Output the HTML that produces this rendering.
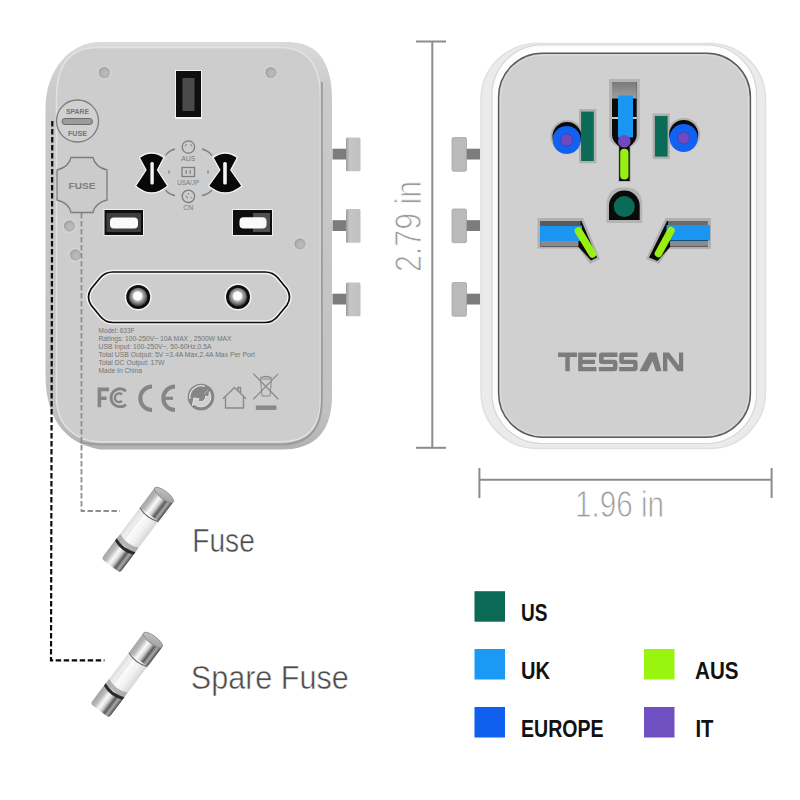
<!DOCTYPE html>
<html><head><meta charset="utf-8">
<style>
html,body{margin:0;padding:0;background:#fff;width:800px;height:800px;overflow:hidden}
svg{display:block}
text{font-family:"Liberation Sans",sans-serif}
</style></head><body>
<svg width="800" height="800" viewBox="0 0 800 800">
<defs>
  <linearGradient id="cap" x1="0" y1="0" x2="1" y2="0">
    <stop offset="0" stop-color="#a4a4a4"/><stop offset="0.2" stop-color="#b8b8b8"/><stop offset="0.4" stop-color="#fafafa"/><stop offset="0.55" stop-color="#d4d4d4"/><stop offset="0.72" stop-color="#5a5a5a"/><stop offset="0.85" stop-color="#a8a8a8"/><stop offset="1" stop-color="#4a4a4a"/>
  </linearGradient>
  <linearGradient id="capTop" x1="0" y1="0" x2="1" y2="1">
    <stop offset="0" stop-color="#c8c8c8"/><stop offset="1" stop-color="#9a9a9a"/>
  </linearGradient>
  <linearGradient id="glass" x1="0" y1="0" x2="1" y2="0">
    <stop offset="0" stop-color="#dcdcdc"/><stop offset="0.35" stop-color="#fbfbfb"/><stop offset="0.7" stop-color="#f0f0f0"/><stop offset="1" stop-color="#d6d6d6"/>
  </linearGradient>
  <linearGradient id="pinhead" x1="0" y1="0" x2="1" y2="0">
    <stop offset="0" stop-color="#9c9c9c"/><stop offset="0.25" stop-color="#c6c6c6"/><stop offset="1" stop-color="#c0c0c0"/>
  </linearGradient>
  <linearGradient id="bodyL" x1="0" y1="0" x2="0" y2="1">
    <stop offset="0" stop-color="#dadada"/><stop offset="0.12" stop-color="#cacaca"/><stop offset="0.9" stop-color="#c2c2c2"/><stop offset="1" stop-color="#b2b2b2"/>
  </linearGradient>
  <radialGradient id="dot" cx="0.55" cy="0.55" r="0.5">
    <stop offset="0" stop-color="#bdbdbd"/><stop offset="0.7" stop-color="#b0b0b0"/><stop offset="1" stop-color="#9c9c9c"/>
  </radialGradient>
  <radialGradient id="hole" cx="0.48" cy="0.45" r="0.55">
    <stop offset="0.4" stop-color="#d0d0d0"/><stop offset="1" stop-color="#3a3a3a"/>
  </radialGradient>
  <linearGradient id="slotTop" x1="0" y1="0" x2="0" y2="1">
    <stop offset="0" stop-color="#7a7a7a"/><stop offset="1" stop-color="#a0a0a0"/>
  </linearGradient>
  <g id="fuse">
    <rect x="-11.5" y="-21" width="23" height="42" fill="url(#glass)"/>
    <line x1="-5" y1="-19" x2="-5" y2="16" stroke="#e2e2e2" stroke-width="1"/>
    <line x1="6" y1="-19" x2="6" y2="16" stroke="#e8e8e8" stroke-width="1"/>
    <path d="M-11.5 13 Q0 18 11.5 13 V20 Q0 25 -11.5 20 Z" fill="#8a8a8a" opacity="0.6"/>
    <rect x="-11.7" y="-45" width="23.4" height="25" rx="2" fill="url(#cap)"/>
    <path d="M-11.7 -20 Q0 -15 11.7 -20" fill="none" stroke="#6a6a6a" stroke-width="1.2"/>
    <ellipse cx="0" cy="-44.5" rx="11.7" ry="4" fill="url(#capTop)" stroke="#8a8a8a" stroke-width="0.8"/>
    <rect x="-11.7" y="20" width="23.4" height="24" rx="3" fill="url(#cap)"/>
    <path d="M-11.7 18.5 Q0 23.5 11.7 18.5 V21.5 Q0 26.5 -11.7 21.5 Z" fill="#2a2a2a"/>
  </g>
  <g id="pinL">
    <rect x="0" y="11.2" width="14" height="10.8" fill="#7c7c7c"/>
    <rect x="13.5" y="0" width="14.5" height="33.7" rx="1.5" fill="url(#pinhead)"/>
  </g>
  <g id="pinR">
    <rect x="14" y="11.2" width="14" height="10.8" fill="#7c7c7c"/>
    <rect x="0" y="0" width="14.5" height="33.7" rx="1.5" fill="#bababa" stroke="#a6a6a6" stroke-width="0.8"/>
  </g>
</defs>

<!-- ============ LEFT DEVICE ============ -->
<use href="#pinL" x="332.5" y="137.5"/>
<use href="#pinL" x="332.5" y="209"/>
<use href="#pinL" x="332.5" y="282.5"/>

<path d="M100 42 H288 Q332 42 332 100 V395 Q332 449.5 282 449.5 H100 C62 443 45.5 415 45.5 375 V108 C45.5 70 70 42 100 42 Z" fill="url(#bodyL)"/>
<path d="M98 47.5 H280 Q320.5 47.5 320.5 98 V400 Q320.5 442 280 442 H100 C78 441.5 57 428 56.5 398 V98 Q56.5 47.5 98 47.5 Z" fill="#cdcdcd" stroke="#e2e2e2" stroke-width="1.5"/>
<path d="M321.8 82 V400 Q321.8 444.6 280 444.6 H100 C92 444.6 86 443.5 80 442" fill="none" stroke="#9c9c9c" stroke-width="2"/>

<!-- screw dots -->
<g fill="url(#dot)" stroke="#d8d8d8" stroke-width="1.2">
  <circle cx="104.4" cy="72.6" r="6.3"/>
  <circle cx="271" cy="72.6" r="6.3"/>
  <circle cx="69.5" cy="226" r="6.3"/>
  <circle cx="75.5" cy="255" r="6.3"/>
  <circle cx="300" cy="244" r="6.3"/>
</g>

<!-- top slot -->
<rect x="175" y="70" width="27" height="49" fill="#f2f2f2"/>
<rect x="176" y="71" width="25" height="46" fill="#0e0e0e"/>
<rect x="182.5" y="78" width="12" height="33" fill="#4a4a4a"/>

<!-- spare fuse circle -->
<circle cx="77.5" cy="121" r="21" fill="#d0d0d0" stroke="#7c7c7c" stroke-width="1.3"/>
<rect x="62" y="118.5" width="30.5" height="6" rx="3" fill="#9c9c9c" stroke="#6a6a6a" stroke-width="1"/>
<text x="77.5" y="113.5" font-size="7.5" font-weight="bold" fill="#737373" text-anchor="middle" textLength="23" lengthAdjust="spacingAndGlyphs">SPARE</text>
<text x="77.5" y="136" font-size="7.5" font-weight="bold" fill="#737373" text-anchor="middle" textLength="19" lengthAdjust="spacingAndGlyphs">FUSE</text>

<!-- fuse octagon -->
<path d="M71 157.5 H93 Q95 167 107 170 V200 Q95 203 93 212.5 H71 Q69 203 57 200 V170 Q69 167 71 157.5 Z" fill="#cbcbcb" stroke="#7c7c7c" stroke-width="1.3"/>
<text x="82" y="188.5" font-size="9.5" font-weight="bold" fill="#7e7e7e" text-anchor="middle" textLength="27" lengthAdjust="spacingAndGlyphs">FUSE</text>

<!-- bowtie holes -->
<g fill="#080808" stroke="#f4f4f4" stroke-width="1.3">
  <path d="M139.3 157.5 Q151.6 148.5 164 157.5 L157.5 170 L167.8 186 Q151.6 200 135.5 186 L146 170 Z"/>
  <path d="M213 157.5 Q225.2 148.5 237.4 157.5 L230.8 170 L242 186 Q225.2 200 208.5 186 L219.8 170 Z"/>
</g>
<rect x="150.4" y="162" width="3.4" height="22.5" rx="1.5" fill="#f4f4f4"/>
<rect x="223.2" y="162" width="3.6" height="22.5" rx="1.5" fill="#f4f4f4"/>

<!-- center icons -->
<g stroke="#7e7e7e" stroke-width="1.3" fill="none">
  <circle cx="188.4" cy="147" r="6.2"/>
  <circle cx="188.4" cy="196.3" r="6.2"/>
  <path d="M186.5 144 L185 146.5 M190.5 144 L192 146.5 M186.3 195.5 L187.5 198.5 M190.8 197 L191.8 198.3 M188.4 193 V194.5" stroke-width="1"/>
  <rect x="182" y="167.5" width="12.5" height="9"/>
  <path d="M165.5 155.5 Q169 150.5 175 149"/>
  <path d="M202 149 Q208 150.5 212 155.5"/>
  <path d="M165.5 190 Q169 194.5 175 195.5"/>
  <path d="M202 195.5 Q208 194.5 212 190"/>
  <line x1="169" y1="170.5" x2="169" y2="173.5"/>
  <line x1="208" y1="170.5" x2="208" y2="173.5"/>
</g>
<g fill="#8a8a8a">
  <rect x="185.5" y="170" width="1.4" height="4"/><rect x="189.5" y="170" width="1.4" height="4"/>
</g>
<g font-size="7" fill="#7a7a7a" text-anchor="middle">
  <text x="188.2" y="161" textLength="14" lengthAdjust="spacingAndGlyphs">AUS</text>
  <text x="188.2" y="184.5" textLength="22" lengthAdjust="spacingAndGlyphs">USA/JP</text>
  <text x="188.2" y="210" textLength="10" lengthAdjust="spacingAndGlyphs">CN</text>
</g>

<!-- USB ports -->
<rect x="103.5" y="209" width="40.5" height="27" fill="#f0f0f0"/>
<rect x="104.5" y="210" width="38.5" height="25" fill="#0e0e0e"/>
<rect x="106.5" y="213" width="34.5" height="19" fill="#3e3e3e"/>
<rect x="110" y="217.5" width="28" height="11" rx="4" fill="#fafafa"/>
<rect x="232" y="209" width="41" height="27" fill="#f0f0f0"/>
<rect x="233" y="210" width="39" height="25" fill="#0e0e0e"/>
<rect x="253" y="213" width="17" height="19" fill="#505050"/>
<rect x="239.5" y="217.2" width="27" height="11.2" rx="4" fill="#fafafa"/>

<!-- euro socket -->
<path id="euro" d="M113 272 H265 Q273 272 278 278 L287 289 Q292 297 287 305 L278 316 Q273 322.5 265 322.5 H113 Q105 322.5 100 316 L91 305 Q86 297 91 289 L100 278 Q105 272 113 272 Z" fill="#cdcdcd" stroke="#f2f2f2" stroke-width="4.5"/>
<path d="M113 272 H265 Q273 272 278 278 L287 289 Q292 297 287 305 L278 316 Q273 322.5 265 322.5 H113 Q105 322.5 100 316 L91 305 Q86 297 91 289 L100 278 Q105 272 113 272 Z" fill="none" stroke="#0e0e0e" stroke-width="1.7"/>
<g>
  <circle cx="138.2" cy="297" r="13.5" fill="#f4f4f4"/>
  <circle cx="138.2" cy="297" r="12" fill="#0e0e0e"/>
  <circle cx="138.2" cy="297" r="9.2" fill="url(#hole)"/>
  <circle cx="137.6" cy="296" r="4.6" fill="#fbfbfb"/>
  <circle cx="238" cy="297" r="13.5" fill="#f4f4f4"/>
  <circle cx="238" cy="297" r="12" fill="#0e0e0e"/>
  <circle cx="238" cy="297" r="9.2" fill="url(#hole)"/>
  <circle cx="237.4" cy="296" r="4.6" fill="#fbfbfb"/>
</g>

<!-- spec text -->
<g font-size="7.4" fill="#747474">
  <text x="98.5" y="332.5" textLength="36" lengthAdjust="spacingAndGlyphs">Model: 633F</text>
  <text x="98.5" y="340.5" textLength="133" lengthAdjust="spacingAndGlyphs">Ratings: 100-250V~ 10A MAX , 2500W MAX</text>
  <text x="98.5" y="348.5" textLength="113" lengthAdjust="spacingAndGlyphs">USB Input: 100-250V~, 50-60Hz,0.5A</text>
  <text x="98.5" y="356.5" textLength="156.5" lengthAdjust="spacingAndGlyphs">Total USB Output: 5V =3.4A Max,2.4A Max Per Port</text>
  <text x="98.5" y="364.5" textLength="66" lengthAdjust="spacingAndGlyphs">Total DC Output: 17W</text>
  <text x="98.5" y="372.5" textLength="43.5" lengthAdjust="spacingAndGlyphs">Made In China</text>
</g>

<!-- cert icons -->
<g fill="#858585">
  <path d="M97.6 387.6 H109 V391.2 H101.2 V396.6 H106.5 V400 H101.2 V407.2 H97.6 Z"/>
</g>
<g fill="none" stroke="#858585">
  <path d="M126 391 A9 9 0 1 0 126 404.5" stroke-width="3"/>
  <path d="M122 394.5 A4.3 4.3 0 1 0 122 401" stroke-width="2.4"/>
  <path d="M152 386.6 A11.7 11.7 0 0 0 152 410" stroke-width="4"/>
  <path d="M175 386.6 A11.7 11.7 0 0 0 175 410" stroke-width="4"/>
  <line x1="163" y1="398.3" x2="173" y2="398.3" stroke-width="3.2"/>
</g>
<circle cx="201" cy="397" r="13.3" fill="#858585"/>
<path d="M208.07 389.93 A10 10 0 0 1 193.93 404.07 L192.37 405.63 L193.87 398.0 L199.16 398.84 L197.75 400.25 A4.6 4.6 0 0 0 204.25 393.75 Z" fill="#cfcfcf" stroke="#e8e8e8" stroke-width="0.9"/>
<path d="M209.63 388.37 L208.13 396.0 L202.84 395.16 Z" fill="#858585"/>
<path d="M189.97 398.94 A11.2 11.2 0 0 1 204.83 386.48" fill="none" stroke="#e2e2e2" stroke-width="1.3"/>
<path d="M223 398.8 L234.5 387.5 L246 398.8 M225.5 396.5 V408 H243.5 V396.5 M238 391 V387.5 H240.5 V393.5" fill="none" stroke="#8a8a8a" stroke-width="1.4"/>
<g stroke="#8a8a8a" stroke-width="1.3" fill="none">
  <path d="M253.3 373.6 L278.3 399.3 M278.3 373.6 L253.3 399.3"/>
  <path d="M260.5 379 H271.5 L270 396 H262 Z" stroke-width="1"/>
  <path d="M260 378 Q266 375 272 378"/>
</g>
<rect x="255.8" y="405.5" width="20.6" height="4.4" fill="#888"/>

<!-- dashed leader lines -->
<path d="M52.3 121 L51 660.3 H104.5" fill="none" stroke="#0a0a0a" stroke-width="2.2" stroke-dasharray="5.5 2.5"/>
<path d="M81.5 213 V511 H120" fill="none" stroke="#8e8e8e" stroke-width="1.8" stroke-dasharray="5.5 2.5"/>

<!-- fuses -->
<use href="#fuse" transform="translate(137.2 530.5) rotate(37)"/>
<use href="#fuse" transform="translate(126.2 675.5) rotate(37)"/>
<text x="192.3" y="552.2" font-size="32.5" fill="#4c4c4c" stroke="#fff" stroke-width="0.5" textLength="62.5" lengthAdjust="spacingAndGlyphs">Fuse</text>
<text x="190.8" y="689" font-size="32.5" fill="#4c4c4c" stroke="#fff" stroke-width="0.5" textLength="158" lengthAdjust="spacingAndGlyphs">Spare Fuse</text>

<!-- ============ DIMENSIONS ============ -->
<g stroke="#8c8c8c" stroke-width="2">
  <line x1="432.3" y1="41" x2="432.3" y2="448"/>
  <line x1="416" y1="41.5" x2="446" y2="41.5"/>
  <line x1="416" y1="447.8" x2="446" y2="447.8"/>
  <line x1="479" y1="479.8" x2="772" y2="479.8"/>
  <line x1="479.4" y1="468" x2="479.4" y2="498"/>
  <line x1="771.6" y1="468" x2="771.6" y2="498"/>
</g>
<text transform="translate(421 272) rotate(-90)" font-size="37" fill="#9c9c9c" stroke="#fff" stroke-width="0.9" textLength="91" lengthAdjust="spacingAndGlyphs">2.79 in</text>
<text x="575" y="517" font-size="37" fill="#9c9c9c" stroke="#fff" stroke-width="0.9" textLength="89" lengthAdjust="spacingAndGlyphs">1.96 in</text>

<!-- ============ RIGHT DEVICE ============ -->
<use href="#pinR" x="452" y="137.5"/>
<use href="#pinR" x="452" y="209"/>
<use href="#pinR" x="452" y="282.5"/>
<rect x="481" y="43.5" width="284.5" height="405" rx="56" fill="#ebebeb" stroke="#e0e0e0" stroke-width="1.5"/>
<rect x="492" y="45" width="264.5" height="398.5" rx="50" fill="#fdfdfd" stroke="#d6d6d6" stroke-width="1.2"/>
<rect x="498.6" y="53.2" width="251.8" height="384" rx="44" fill="#d0d0d0" stroke="#5a5a5a" stroke-width="1.5"/>
<rect x="500.4" y="55" width="248.2" height="380.4" rx="42.5" fill="none" stroke="#dedede" stroke-width="1"/>

<!-- center vertical slot -->
<path d="M609 79 H639.7 V135 Q639.7 142 631 147 V182 H618 V147 Q609 142 609 135 Z" fill="#b4b4b4"/>
<path d="M612 82 H636.7 V135 Q636.7 141 629.7 146.5 V181 H619.2 V146.5 Q612 141 612 135 Z" fill="#0a0a0a"/>
<rect x="612" y="82" width="24.7" height="16.5" fill="url(#slotTop)"/>
<rect x="612" y="117.2" width="24.7" height="1.6" fill="#f6f6f6"/>
<rect x="618" y="95.5" width="15" height="42" fill="#1a96f2"/>
<circle cx="624.3" cy="141.2" r="6.3" fill="#7048c0"/>
<rect x="620.2" y="148.7" width="8.3" height="30.7" rx="4" fill="#98f012"/>

<!-- US flat slots + round -->
<rect x="579" y="109" width="17.4" height="54.2" fill="#b0b0b0"/>
<circle cx="567" cy="136.5" r="16.5" fill="#b0b0b0"/>
<circle cx="567" cy="136.5" r="14.5" fill="#0a0a0a"/>
<rect x="581.1" y="111.6" width="12.7" height="49.4" fill="#0b6b56"/>
<circle cx="566.7" cy="140" r="14" fill="#1262f2"/>
<circle cx="566.7" cy="140" r="6.1" fill="#7048c0" stroke="#3a3aa0" stroke-width="0.6"/>

<rect x="652.6" y="113.5" width="17.2" height="45.6" fill="#b0b0b0"/>
<circle cx="683.7" cy="134.5" r="16.5" fill="#b0b0b0"/>
<circle cx="683.7" cy="134.5" r="14.5" fill="#0a0a0a"/>
<rect x="654.9" y="116" width="12.7" height="40.6" fill="#0b6b56"/>
<circle cx="683.7" cy="138" r="14" fill="#1262f2"/>
<circle cx="683.7" cy="138" r="6" fill="#7048c0" stroke="#3a3aa0" stroke-width="0.6"/>

<!-- ground hole -->
<path d="M606.5 223 V205 Q606.5 187.3 624.35 187.3 Q642.2 187.3 642.2 205 V223 Z" fill="#b4b4b4"/>
<path d="M609 220 V205.8 A15.35 15.35 0 0 1 639.7 205.8 V220 Z" fill="#0a0a0a"/>
<circle cx="624.3" cy="206.6" r="10.5" fill="#0b6b56"/>

<!-- angled slots -->
<path d="M537.5 218 H583 L600 259 L590 264 L579 248.5 H537.5 Z" fill="#b0b0b0"/>
<path d="M540.5 221 H581.5 L597 257.5 L591 260.5 L578 246.5 H540.5 Z" fill="#0a0a0a"/>
<rect x="540.5" y="221" width="40" height="4.5" fill="#5a5a5a"/>
<rect x="540.5" y="241" width="38" height="5" fill="#8a8a8a"/>
<rect x="540" y="225.5" width="42" height="15.5" fill="#1a96f2"/>
<line x1="578.5" y1="231" x2="592.5" y2="254" stroke="#98f012" stroke-width="7.5" stroke-linecap="round"/>

<path d="M711 218 H665.5 L646 259 L659 264 L669 249 H711 Z" fill="#b0b0b0"/>
<path d="M708 221 H667 L649 257.5 L657.5 261 L670.5 246.5 H708 Z" fill="#0a0a0a"/>
<rect x="668" y="221" width="40" height="4.5" fill="#6a6a6a"/>
<rect x="670" y="241" width="38" height="5" fill="#8a8a8a"/>
<rect x="666.5" y="225" width="43.5" height="15.5" fill="#1a96f2"/>
<line x1="671" y1="230.5" x2="658.5" y2="253.5" stroke="#98f012" stroke-width="7.5" stroke-linecap="round"/>

<!-- TESSAN -->
<g fill="#7c7c7c">
<path d="M558 352.5 H577 V357 H569.8 V371.3 H565.3 V357 H558 Z"/>
<path d="M578.2 352.5 H596.4 V357 H582.6 V359.8 H595 V364 H582.6 V366.9 H596.4 V371.3 H578.2 Z"/>
<path d="M602 352.5 H617.4 V357 H603.6 V359.7 H614 Q617.4 359.7 617.4 363 V368 Q617.4 371.3 614 371.3 H599 V366.9 H613 V364.1 H602.4 Q599 364.1 599 360.8 V355.8 Q599 352.5 602 352.5 Z"/>
<path d="M622.2 352.5 H637.6 V357 H623.8 V359.7 H634.2 Q637.6 359.7 637.6 363 V368 Q637.6 371.3 634.2 371.3 H619.2 V366.9 H633.2 V364.1 H622.6 Q619.2 364.1 619.2 360.8 V355.8 Q619.2 352.5 622.2 352.5 Z"/>
<path fill-rule="evenodd" d="M639.5 371.3 L649.5 352.5 H656.5 L661.5 371.3 Z M647.5 371.3 L652.5 361 L656 371.3 Z"/>
<path d="M663 352.5 H669 L679 365.5 V352.5 H683.2 V371.3 H677.5 L667.3 358 V371.3 H663 Z"/>
</g>

<!-- ============ LEGEND ============ -->
<rect x="474.5" y="591.2" width="30.5" height="30.5" fill="#0a6a55"/>
<rect x="474.5" y="649" width="30.5" height="30.5" fill="#1a9af5"/>
<rect x="474.5" y="707" width="30.5" height="30.5" fill="#1060f0"/>
<rect x="644" y="649" width="30.5" height="30.5" fill="#99f510"/>
<rect x="644" y="707" width="30.5" height="30.5" fill="#7050c0"/>
<g font-size="23" font-weight="bold" fill="#111">
  <text x="521" y="621.3" textLength="26.5" lengthAdjust="spacingAndGlyphs">US</text>
  <text x="521" y="679.3" textLength="29" lengthAdjust="spacingAndGlyphs">UK</text>
  <text x="521" y="736.5" textLength="82.5" lengthAdjust="spacingAndGlyphs">EUROPE</text>
  <text x="695" y="679.3" textLength="43.5" lengthAdjust="spacingAndGlyphs">AUS</text>
  <text x="695.5" y="737.3" textLength="18" lengthAdjust="spacingAndGlyphs">IT</text>
</g>
</svg>
</body></html>
